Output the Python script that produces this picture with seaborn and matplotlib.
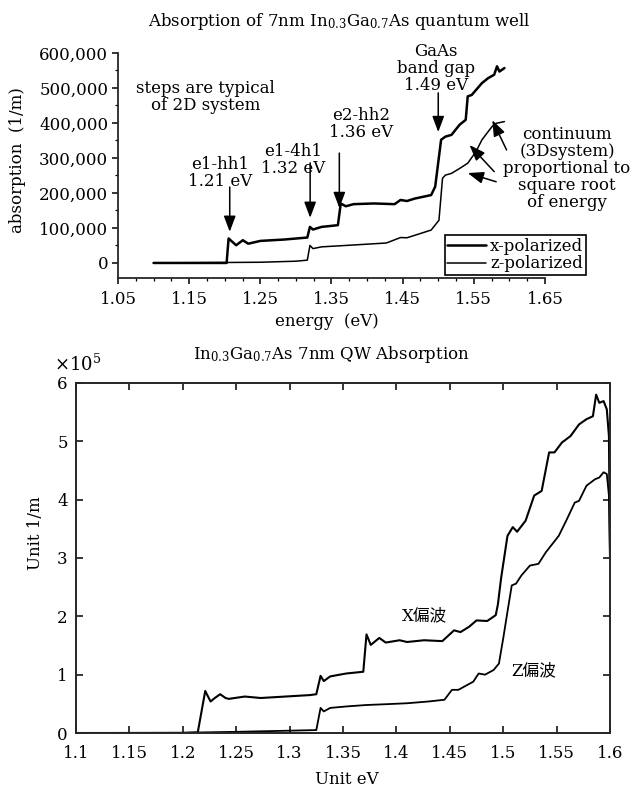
import matplotlib
matplotlib.use("Agg")
import matplotlib.pyplot as plt
import matplotlib.ticker as mticker
import seaborn as sns
import pandas as pd

# ---------------- data: top panel (absorption, 1/m) ----------------
top_energy_x = [1.100, 1.2026, 1.2054, 1.216, 1.2254, 1.233, 1.250, 1.284, 1.316, 1.3197,
                1.324, 1.336, 1.359, 1.363, 1.370, 1.381, 1.410, 1.4386, 1.447, 1.456,
                1.467, 1.490, 1.4957, 1.504, 1.510, 1.5186, 1.530, 1.5386, 1.5414, 1.547,
                1.5614, 1.570, 1.5786, 1.5826, 1.586, 1.593]
top_abs_x = [0, 0, 70000, 50600, 65000, 55000, 63000, 67000, 72600, 103000,
             95500, 103000, 108000, 170000, 162000, 168000, 170000, 168000, 180000, 177000,
             184000, 194000, 218000, 352000, 361000, 366000, 395000, 409000, 476000, 480000,
             514000, 528000, 538000, 562000, 547000, 557000]
top_energy_z = [1.100, 1.250, 1.300, 1.316, 1.3197, 1.324, 1.336, 1.370, 1.427, 1.447,
                1.456, 1.467, 1.490, 1.501, 1.506, 1.510, 1.5186, 1.530, 1.5414, 1.553,
                1.5614, 1.570, 1.5757, 1.5814, 1.593]
top_abs_z = [0, 2000, 5000, 8000, 50000, 41000, 46000, 50000, 57000, 72600,
             72000, 79000, 94000, 122000, 242000, 251000, 256000, 270000, 285000, 318000,
             352000, 375000, 390000, 399000, 404000]
top_series = ["x-polarized", "z-polarized"]

# ---------------- data: bottom panel (x 1e5 1/m) ----------------
bot_energy_x = [1.100, 1.150, 1.200, 1.214, 1.221, 1.226, 1.230, 1.235, 1.240, 1.243,
                1.258, 1.273, 1.296, 1.319, 1.325, 1.329, 1.332, 1.338, 1.353, 1.369,
                1.372, 1.376, 1.384, 1.390, 1.403, 1.410, 1.426, 1.443, 1.454, 1.460,
                1.468, 1.475, 1.485, 1.493, 1.495, 1.498, 1.504, 1.509, 1.513, 1.521,
                1.529, 1.536, 1.543, 1.548, 1.555, 1.563, 1.571, 1.578, 1.584, 1.587,
                1.590, 1.594, 1.597, 1.599, 1.600]
bot_abs_x = [0, 0, 0, 0.01, 0.72, 0.54, 0.60, 0.665, 0.60, 0.585,
             0.625, 0.60, 0.625, 0.65, 0.665, 0.98, 0.89, 0.97, 1.02, 1.05,
             1.69, 1.51, 1.63, 1.55, 1.59, 1.56, 1.59, 1.575, 1.76, 1.73,
             1.82, 1.93, 1.92, 2.02, 2.20, 2.65, 3.38, 3.53, 3.45, 3.64,
             4.07, 4.15, 4.81, 4.81, 4.98, 5.09, 5.29, 5.38, 5.43, 5.80,
             5.66, 5.69, 5.55, 5.09, 3.00]
bot_energy_z = [1.100, 1.200, 1.250, 1.300, 1.325, 1.329, 1.332, 1.338, 1.353, 1.372,
                1.392, 1.410, 1.430, 1.445, 1.452, 1.458, 1.464, 1.472, 1.477, 1.483,
                1.491, 1.496, 1.500, 1.504, 1.508, 1.512, 1.517, 1.525, 1.533, 1.540,
                1.552, 1.559, 1.567, 1.571, 1.578, 1.586, 1.590, 1.594, 1.597, 1.599,
                1.600]
bot_abs_z = [0, 0.005, 0.02, 0.04, 0.05, 0.43, 0.37, 0.43, 0.455, 0.48,
             0.495, 0.51, 0.54, 0.57, 0.74, 0.74, 0.80, 0.88, 1.02, 1.00,
             1.08, 1.19, 1.62, 2.08, 2.53, 2.56, 2.70, 2.87, 2.90, 3.10,
             3.38, 3.64, 3.95, 3.98, 4.24, 4.35, 4.38, 4.47, 4.44, 4.07,
             3.00]

top_xticks = [1.05, 1.15, 1.25, 1.35, 1.45, 1.55, 1.65]
top_yticks = [0, 100000, 200000, 300000, 400000, 500000, 600000]
bot_xticks = [1.1, 1.15, 1.2, 1.25, 1.3, 1.35, 1.4, 1.45, 1.5, 1.55, 1.6]
bot_yticks = [0, 1, 2, 3, 4, 5, 6]

# ---------------- style ----------------
sns.set_theme(style="ticks")
plt.rcParams["font.family"] = ["DejaVu Serif", "Noto Sans CJK JP"]
plt.rcParams["mathtext.fontset"] = "dejavuserif"
plt.rcParams["axes.linewidth"] = 1.3
plt.rcParams["text.color"] = "black"
plt.rcParams["axes.labelcolor"] = "black"
plt.rcParams["xtick.color"] = "black"
plt.rcParams["ytick.color"] = "black"

W, H = 639, 787
fig = plt.figure(figsize=(W / 100, H / 100), dpi=100)
fs = 12

def fx(px):
    return px / W

def fy(py):
    return 1 - py / H

# ================= top panel =================
ax1 = fig.add_axes([fx(118), fy(278), fx(545) - fx(118), fy(53) - fy(278)])
df_tx = pd.DataFrame({"energy": top_energy_x, "absorption": top_abs_x})
df_tz = pd.DataFrame({"energy": top_energy_z, "absorption": top_abs_z})
sns.lineplot(data=df_tx, x="energy", y="absorption", ax=ax1, color="black",
             lw=1.8, label=top_series[0], estimator=None, sort=False)
sns.lineplot(data=df_tz, x="energy", y="absorption", ax=ax1, color="black",
             lw=1.1, label=top_series[1], estimator=None, sort=False)
ax1.set_xlim(1.05, 1.65)
ax1.set_ylim(-43000, 600000)
ax1.spines["top"].set_visible(False)
ax1.spines["right"].set_visible(False)
ax1.spines["left"].set_bounds(-43000, 600000)
ax1.set_xticks(top_xticks)
ax1.set_xticklabels([f"{v:.2f}" for v in top_xticks], fontsize=fs)
ax1.set_yticks(top_yticks)
ax1.set_yticklabels([f"{v:,}" for v in top_yticks], fontsize=fs)
ax1.xaxis.set_minor_locator(mticker.MultipleLocator(0.025))
ax1.yaxis.set_minor_locator(mticker.MultipleLocator(50000))
ax1.tick_params(which="major", direction="out", length=4, width=1.1, pad=3)
ax1.tick_params(axis="x", which="major", pad=5)
ax1.tick_params(which="minor", direction="out", length=2, width=0.9)
ax1.set_xlabel("")
ax1.set_ylabel("")
fig.text(fx(327), fy(322), "energy  (eV)", ha="center", va="center", fontsize=fs)
fig.text(fx(18), fy(160), "absorption  (1/m)", ha="center", va="center",
         rotation=90, fontsize=fs)
fig.text(fx(339), fy(22), r"Absorption of 7nm In$_{0.3}$Ga$_{0.7}$As quantum well",
         ha="center", va="center", fontsize=fs)

leg = ax1.legend(loc="lower left", bbox_to_anchor=(fx(445), fy(275)),
                 bbox_transform=fig.transFigure, fontsize=fs, frameon=True,
                 fancybox=False, borderpad=0.15, labelspacing=0.05,
                 handlelength=2.3, handletextpad=0.25, borderaxespad=0)
leg.get_frame().set_edgecolor("black")
leg.get_frame().set_linewidth(1.2)
leg.get_frame().set_alpha(1)

# annotations
ax1.text(1.173, 474000, "steps are typical\nof 2D system", ha="center", va="center",
         fontsize=fs, linespacing=1.05)
ax1.text(1.193, 257000, "e1-hh1\n1.21 eV", ha="center", va="center", fontsize=fs,
         linespacing=1.05)
ax1.text(1.296, 294000, "e1-4h1\n1.32 eV", ha="center", va="center", fontsize=fs,
         linespacing=1.05)
ax1.text(1.391, 397000, "e2-hh2\n1.36 eV", ha="center", va="center", fontsize=fs,
         linespacing=1.05)
ax1.text(1.497, 557000, "GaAs\nband gap\n1.49 eV", ha="center", va="center", fontsize=fs,
         linespacing=1.0)
ax1.text(1.681, 271000, "continuum\n(3Dsystem)\nproportional to\nsquare root\nof energy",
         ha="center", va="center", fontsize=fs, linespacing=1.0, clip_on=False)

astyle = dict(arrowstyle="-|>,head_length=0.8,head_width=0.3", color="black",
              lw=1.1, mutation_scale=12, shrinkA=0, shrinkB=0)
arrows = [((1.207, 217000), (1.207, 89000)),
          ((1.320, 286000), (1.320, 129000)),
          ((1.361, 314000), (1.361, 157000)),
          ((1.500, 486000), (1.500, 374000)),
          ((1.596, 323000), (1.576, 408000)),
          ((1.5786, 261000), (1.544, 337000)),
          ((1.5814, 232000), (1.5414, 257000))]
for tail, tip in arrows:
    ax1.annotate("", xy=tip, xytext=tail, arrowprops=astyle, annotation_clip=False)

# ================= bottom panel =================
ax2 = fig.add_axes([fx(76), fy(733), fx(610) - fx(76), fy(383) - fy(733)])
df_bx = pd.DataFrame({"energy": bot_energy_x, "absorption": bot_abs_x})
df_bz = pd.DataFrame({"energy": bot_energy_z, "absorption": bot_abs_z})
sns.lineplot(data=df_bx, x="energy", y="absorption", ax=ax2, color="black",
             lw=1.5, estimator=None, sort=False, legend=False)
sns.lineplot(data=df_bz, x="energy", y="absorption", ax=ax2, color="black",
             lw=1.3, estimator=None, sort=False, legend=False)
ax2.set_xlim(1.1, 1.6)
ax2.set_ylim(0, 6)
ax2.set_xticks(bot_xticks)
ax2.set_xticklabels([f"{v:g}" for v in bot_xticks], fontsize=fs)
ax2.set_yticks(bot_yticks)
ax2.set_yticklabels([f"{v:g}" for v in bot_yticks], fontsize=fs)
ax2.tick_params(which="major", direction="in", length=5, width=1.1, pad=6,
                top=True, right=True)
ax2.tick_params(axis="x", which="major", pad=9)
ax2.set_xlabel("")
ax2.set_ylabel("")
for s in ax2.spines.values():
    s.set_linewidth(1.4)
ax2.text(1.426, 2.01, "X偏波", ha="center", va="center", fontsize=fs)
ax2.text(1.529, 1.07, "Z偏波", ha="center", va="center", fontsize=fs)
fig.text(fx(331), fy(355), r"In$_{0.3}$Ga$_{0.7}$As 7nm QW Absorption",
         ha="center", va="center", fontsize=fs)
fig.text(fx(54), fy(364), r"$\times10^{5}$", ha="left", va="center", fontsize=13)
fig.text(fx(347), fy(780), "Unit eV", ha="center", va="center", fontsize=fs)
fig.text(fx(35), fy(533), "Unit 1/m", ha="center", va="center", rotation=90, fontsize=fs)

fig.savefig("out.png", dpi=100, facecolor="white")
